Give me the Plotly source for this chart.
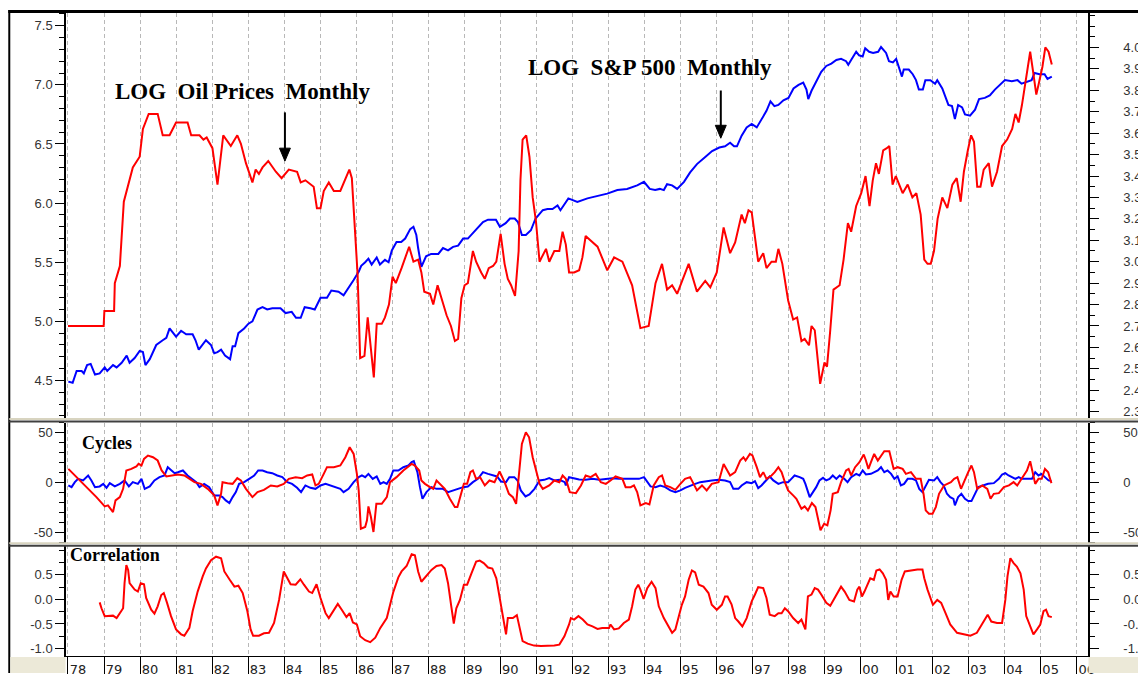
import plotly.graph_objects as go

# ---------------- data ----------------
# LOG oil price, read against the right-hand scale of the top panel
oil_log = [(1978.00,2.70),(1978.99,2.70),(1979.01,2.77),(1979.28,2.77),(1979.30,2.90),(1979.44,2.98),(1979.55,3.28),(1979.67,3.36),(1979.80,3.44),(1979.99,3.49),(1980.08,3.62),(1980.24,3.69),(1980.49,3.69),(1980.63,3.59),(1980.82,3.59),(1981.00,3.65),(1981.32,3.65),(1981.42,3.59),(1981.65,3.59),(1981.76,3.57),(1981.85,3.58),(1982.01,3.53),(1982.15,3.36),(1982.31,3.59),(1982.52,3.54),(1982.70,3.59),(1982.80,3.55),(1982.94,3.46),(1983.12,3.37),(1983.21,3.43),(1983.30,3.41),(1983.40,3.44),(1983.56,3.47),(1983.77,3.42),(1983.93,3.39),(1984.13,3.43),(1984.36,3.42),(1984.46,3.37),(1984.59,3.38),(1984.82,3.35),(1984.91,3.25),(1985.01,3.25),(1985.10,3.33),(1985.24,3.37),(1985.38,3.33),(1985.56,3.33),(1985.68,3.38),(1985.81,3.43),(1985.88,3.39),(1985.98,3.09),(1986.04,2.94),(1986.11,2.55),(1986.23,2.56),(1986.32,2.74),(1986.39,2.61),(1986.43,2.56),(1986.49,2.46),(1986.57,2.71),(1986.71,2.71),(1986.80,2.74),(1986.91,2.80),(1987.01,2.93),(1987.10,2.90),(1987.26,2.97),(1987.47,3.07),(1987.59,3.00),(1987.72,3.01),(1987.81,2.95),(1987.89,2.86),(1988.05,2.85),(1988.14,2.80),(1988.26,2.89),(1988.39,2.82),(1988.51,2.75),(1988.63,2.70),(1988.74,2.63),(1988.83,2.64),(1988.92,2.83),(1989.01,2.89),(1989.10,2.90),(1989.24,3.05),(1989.33,3.00),(1989.47,2.95),(1989.57,2.92),(1989.68,2.97),(1989.80,2.98),(1989.89,3.00),(1990.01,3.13),(1990.12,2.99),(1990.21,2.92),(1990.30,2.89),(1990.41,2.84),(1990.51,3.05),(1990.56,3.38),(1990.62,3.57),(1990.72,3.59),(1990.81,3.49),(1990.90,3.30),(1990.99,3.19),(1991.09,3.00),(1991.15,3.02),(1991.27,3.06),(1991.36,3.00),(1991.50,3.05),(1991.64,3.05),(1991.73,3.14),(1991.82,3.08),(1991.91,2.95),(1992.05,2.95),(1992.19,2.96),(1992.28,3.02),(1992.37,3.12),(1992.50,3.10),(1992.70,3.07),(1992.97,2.96),(1993.16,3.02),(1993.39,3.00),(1993.66,2.89),(1993.89,2.69),(1994.12,2.70),(1994.31,2.90),(1994.49,2.99),(1994.63,2.87),(1994.77,2.89),(1994.91,2.85),(1995.23,2.99),(1995.46,2.86),(1995.69,2.91),(1995.83,2.88),(1996.01,2.95),(1996.20,3.16),(1996.38,3.04),(1996.52,3.09),(1996.70,3.22),(1996.79,3.18),(1996.89,3.24),(1996.98,3.23),(1997.16,3.00),(1997.30,3.04),(1997.39,2.97),(1997.53,3.00),(1997.65,3.00),(1997.72,3.06),(1997.83,2.99),(1997.99,2.82),(1998.13,2.73),(1998.24,2.74),(1998.36,2.63),(1998.45,2.64),(1998.57,2.61),(1998.64,2.70),(1998.73,2.68),(1998.82,2.53),(1998.88,2.43),(1999.00,2.53),(1999.07,2.51),(1999.16,2.68),(1999.25,2.87),(1999.42,2.89),(1999.53,3.01),(1999.65,3.18),(1999.74,3.14),(1999.88,3.26),(2000.02,3.32),(2000.14,3.40),(2000.25,3.26),(2000.34,3.38),(2000.43,3.46),(2000.51,3.41),(2000.63,3.52),(2000.73,3.53),(2000.80,3.54),(2000.89,3.36),(2000.98,3.40),(2001.17,3.32),(2001.31,3.36),(2001.44,3.30),(2001.55,3.32),(2001.67,3.22),(2001.77,3.01),(2001.86,2.99),(2001.95,2.99),(2002.04,3.05),(2002.14,3.20),(2002.27,3.30),(2002.41,3.25),(2002.55,3.36),(2002.67,3.39),(2002.78,3.28),(2002.87,3.42),(2002.98,3.52),(2003.07,3.59),(2003.15,3.56),(2003.24,3.35),(2003.33,3.35),(2003.42,3.43),(2003.56,3.46),(2003.65,3.35),(2003.79,3.42),(2003.93,3.54),(2004.07,3.57),(2004.21,3.62),(2004.30,3.69),(2004.39,3.65),(2004.48,3.73),(2004.59,3.84),(2004.71,3.98),(2004.78,3.90),(2004.88,3.78),(2004.96,3.84),(2005.05,3.91),(2005.13,4.00),(2005.22,3.98),(2005.31,3.92)]

# LOG S&P 500, read against the left-hand scale of the top panel
spx_log = [(1978.01,4.49),(1978.13,4.48),(1978.24,4.58),(1978.38,4.58),(1978.44,4.56),(1978.53,4.63),(1978.63,4.64),(1978.75,4.55),(1978.88,4.56),(1979.02,4.61),(1979.09,4.58),(1979.25,4.63),(1979.35,4.61),(1979.49,4.65),(1979.63,4.71),(1979.71,4.65),(1979.85,4.69),(1979.99,4.75),(1980.08,4.74),(1980.15,4.63),(1980.27,4.68),(1980.45,4.80),(1980.63,4.84),(1980.73,4.86),(1980.82,4.94),(1980.91,4.90),(1981.00,4.87),(1981.14,4.92),(1981.28,4.89),(1981.46,4.89),(1981.54,4.84),(1981.63,4.76),(1981.83,4.84),(1981.97,4.80),(1982.06,4.73),(1982.15,4.74),(1982.25,4.76),(1982.36,4.71),(1982.50,4.68),(1982.57,4.79),(1982.64,4.79),(1982.73,4.90),(1982.89,4.94),(1983.01,4.98),(1983.12,5.00),(1983.26,5.10),(1983.40,5.12),(1983.53,5.10),(1983.67,5.11),(1983.90,5.11),(1984.04,5.07),(1984.21,5.08),(1984.33,5.03),(1984.46,5.03),(1984.57,5.12),(1984.73,5.11),(1984.85,5.10),(1985.01,5.20),(1985.19,5.20),(1985.31,5.26),(1985.51,5.25),(1985.65,5.22),(1985.79,5.28),(1985.93,5.35),(1986.07,5.42),(1986.14,5.47),(1986.25,5.50),(1986.34,5.53),(1986.43,5.48),(1986.57,5.54),(1986.66,5.48),(1986.80,5.52),(1986.90,5.50),(1986.99,5.60),(1987.12,5.67),(1987.25,5.67),(1987.36,5.70),(1987.50,5.78),(1987.59,5.80),(1987.67,5.73),(1987.72,5.62),(1987.81,5.46),(1987.94,5.55),(1988.08,5.57),(1988.28,5.57),(1988.41,5.62),(1988.55,5.60),(1988.69,5.63),(1988.83,5.64),(1988.97,5.70),(1989.10,5.70),(1989.33,5.78),(1989.52,5.84),(1989.66,5.86),(1989.88,5.86),(1989.99,5.80),(1990.15,5.83),(1990.27,5.87),(1990.40,5.87),(1990.49,5.84),(1990.60,5.73),(1990.71,5.73),(1990.85,5.77),(1990.98,5.87),(1991.18,5.94),(1991.31,5.95),(1991.45,5.95),(1991.59,5.98),(1991.67,5.94),(1991.89,6.04),(1992.14,6.01),(1992.42,6.04),(1992.70,6.06),(1992.97,6.08),(1993.25,6.11),(1993.52,6.12),(1993.80,6.15),(1993.99,6.18),(1994.15,6.12),(1994.30,6.11),(1994.43,6.12),(1994.54,6.11),(1994.63,6.16),(1994.77,6.15),(1994.91,6.12),(1995.10,6.18),(1995.27,6.26),(1995.46,6.33),(1995.69,6.39),(1995.88,6.44),(1996.08,6.47),(1996.24,6.48),(1996.38,6.51),(1996.49,6.48),(1996.57,6.48),(1996.70,6.57),(1996.84,6.64),(1996.98,6.67),(1997.12,6.64),(1997.25,6.71),(1997.39,6.78),(1997.50,6.86),(1997.61,6.82),(1997.72,6.83),(1997.86,6.87),(1998.00,6.89),(1998.14,6.97),(1998.28,7.00),(1998.41,7.02),(1998.50,6.96),(1998.55,6.88),(1998.64,6.95),(1998.77,7.03),(1998.91,7.11),(1999.05,7.16),(1999.19,7.18),(1999.33,7.21),(1999.46,7.22),(1999.60,7.20),(1999.66,7.17),(1999.74,7.21),(1999.88,7.28),(1999.96,7.25),(2000.06,7.24),(2000.13,7.31),(2000.24,7.28),(2000.35,7.27),(2000.49,7.28),(2000.57,7.32),(2000.71,7.27),(2000.79,7.20),(2000.90,7.19),(2000.99,7.22),(2001.08,7.13),(2001.15,7.07),(2001.20,7.13),(2001.34,7.13),(2001.45,7.09),(2001.54,7.04),(2001.62,6.96),(2001.73,6.96),(2001.80,7.04),(2001.94,7.04),(2002.07,7.01),(2002.13,7.04),(2002.27,6.97),(2002.35,6.90),(2002.44,6.83),(2002.54,6.82),(2002.62,6.71),(2002.71,6.83),(2002.82,6.81),(2002.90,6.75),(2003.04,6.74),(2003.18,6.79),(2003.29,6.88),(2003.45,6.89),(2003.59,6.91),(2003.73,6.96),(2003.87,7.00),(2004.01,7.04),(2004.20,7.03),(2004.36,7.04),(2004.47,7.01),(2004.64,7.03),(2004.75,7.04),(2004.83,7.10),(2004.97,7.09),(2005.11,7.09),(2005.19,7.05),(2005.31,7.07)]

cycles_oil = [(1978.01,13.8),(1978.10,10.5),(1978.24,6.2),(1978.56,-6.2),(1978.79,-14.5),(1979.02,-23.8),(1979.11,-22.8),(1979.25,-29.5),(1979.32,-17.8),(1979.44,-14.5),(1979.53,-6.2),(1979.62,12.2),(1979.76,13.8),(1979.90,16.2),(1979.96,18.8),(1980.04,17.2),(1980.11,23.8),(1980.22,27.2),(1980.36,25.5),(1980.49,22.2),(1980.60,12.2),(1980.73,6.2),(1980.86,7.2),(1981.05,8.2),(1981.23,7.2),(1981.37,3.8),(1981.51,0.5),(1981.69,-1.2),(1981.88,-6.2),(1982.06,-12.8),(1982.15,-22.8),(1982.25,-11.2),(1982.29,0.5),(1982.43,-0.5),(1982.57,-1.2),(1982.70,4.5),(1982.80,2.2),(1982.94,-6.2),(1983.12,-14.5),(1983.26,-9.5),(1983.44,-7.2),(1983.63,-2.8),(1983.81,-3.8),(1983.99,-1.2),(1984.13,3.8),(1984.32,5.5),(1984.50,4.5),(1984.64,7.2),(1984.78,8.2),(1984.87,-2.8),(1984.96,-1.2),(1985.10,8.8),(1985.19,15.5),(1985.38,15.5),(1985.56,17.2),(1985.70,25.5),(1985.82,35.5),(1985.93,28.8),(1986.02,8.8),(1986.07,-7.8),(1986.13,-46.2),(1986.25,-44.5),(1986.30,-37.8),(1986.34,-23.8),(1986.41,-34.5),(1986.48,-49.5),(1986.56,-21.2),(1986.71,-21.2),(1986.85,-14.5),(1986.94,0.5),(1987.12,5.5),(1987.31,12.2),(1987.54,18.8),(1987.63,17.2),(1987.75,12.2),(1987.81,2.2),(1987.91,-1.2),(1988.05,-4.5),(1988.14,-6.2),(1988.23,2.2),(1988.32,-1.2),(1988.46,-6.2),(1988.60,-16.2),(1988.74,-24.5),(1988.81,-24.5),(1988.92,-11.2),(1988.99,-1.2),(1989.08,-1.2),(1989.17,10.5),(1989.24,12.2),(1989.33,3.8),(1989.44,5.5),(1989.57,-2.8),(1989.70,2.2),(1989.84,0.5),(1989.98,11.2),(1990.12,0.5),(1990.24,-11.2),(1990.35,-14.5),(1990.44,-21.2),(1990.53,8.8),(1990.60,38.8),(1990.71,50.5),(1990.80,45.5),(1990.90,25.5),(1990.99,13.8),(1991.09,-1.2),(1991.18,-6.2),(1991.36,-2.8),(1991.50,2.2),(1991.64,0.5),(1991.73,7.2),(1991.82,3.8),(1991.93,-9.5),(1992.10,-10.5),(1992.24,-2.8),(1992.37,7.2),(1992.51,5.5),(1992.65,8.8),(1992.79,0.5),(1992.93,-1.2),(1993.06,2.2),(1993.20,6.2),(1993.39,3.8),(1993.48,-4.5),(1993.62,-4.5),(1993.71,-2.8),(1993.80,-9.5),(1993.89,-22.8),(1994.04,-20.5),(1994.14,-21.8),(1994.26,-2.8),(1994.40,5.5),(1994.49,7.2),(1994.58,-2.8),(1994.72,-4.5),(1994.86,-7.2),(1995.00,-1.2),(1995.13,3.8),(1995.27,5.5),(1995.37,-1.2),(1995.46,-7.8),(1995.60,-2.8),(1995.73,-7.8),(1995.87,-1.2),(1996.06,0.5),(1996.20,18.8),(1996.29,12.2),(1996.38,7.2),(1996.52,10.5),(1996.66,22.2),(1996.75,25.5),(1996.81,22.2),(1996.93,28.8),(1997.00,27.2),(1997.12,15.5),(1997.21,5.5),(1997.30,10.5),(1997.39,3.8),(1997.53,7.2),(1997.62,10.5),(1997.72,15.5),(1997.81,10.5),(1997.90,0.5),(1997.99,-7.8),(1998.13,-12.8),(1998.22,-16.2),(1998.36,-26.2),(1998.45,-23.8),(1998.54,-27.8),(1998.65,-20.5),(1998.75,-24.5),(1998.82,-37.8),(1998.89,-47.8),(1998.99,-41.2),(1999.08,-42.8),(1999.17,-27.8),(1999.23,-11.2),(1999.37,-9.5),(1999.46,0.5),(1999.60,12.2),(1999.67,13.8),(1999.74,7.2),(1999.85,15.5),(1999.97,20.5),(2000.09,28.2),(2000.15,22.2),(2000.22,13.8),(2000.29,20.5),(2000.38,28.8),(2000.48,22.2),(2000.57,27.2),(2000.66,31.5),(2000.80,31.5),(2000.85,23.8),(2000.92,13.8),(2001.03,15.5),(2001.17,13.8),(2001.26,8.8),(2001.40,10.5),(2001.54,3.8),(2001.67,3.8),(2001.75,-11.2),(2001.81,-27.8),(2001.90,-31.2),(2002.00,-31.2),(2002.09,-24.5),(2002.18,-11.2),(2002.32,-2.8),(2002.51,0.5),(2002.60,3.8),(2002.69,5.5),(2002.79,-6.2),(2002.88,2.2),(2002.99,10.5),(2003.08,17.2),(2003.15,10.5),(2003.24,-6.2),(2003.38,-2.8),(2003.52,-6.2),(2003.61,-16.2),(2003.70,-11.2),(2003.84,-10.5),(2003.98,-4.5),(2004.12,-2.8),(2004.25,0.5),(2004.35,-2.8),(2004.44,2.2),(2004.53,7.2),(2004.62,12.2),(2004.71,21.5),(2004.78,10.5),(2004.85,-1.2),(2004.94,3.8),(2005.03,3.8),(2005.12,13.8),(2005.21,10.5),(2005.25,5.5),(2005.30,-0.5)]

cycles_spx = [(1978.01,-2.8),(1978.10,-4.5),(1978.19,0.5),(1978.28,3.8),(1978.42,2.2),(1978.56,7.2),(1978.65,2.2),(1978.75,-4.5),(1978.88,-3.8),(1978.98,-1.2),(1979.07,-5.2),(1979.16,-0.5),(1979.30,-3.8),(1979.44,-1.2),(1979.57,2.2),(1979.69,-3.8),(1979.80,0.5),(1979.94,-1.2),(1980.04,3.8),(1980.13,-6.2),(1980.27,-3.8),(1980.40,2.2),(1980.54,5.5),(1980.68,7.2),(1980.77,15.5),(1980.86,12.2),(1980.96,9.5),(1981.05,10.5),(1981.19,12.2),(1981.32,7.2),(1981.46,3.8),(1981.56,0.5),(1981.65,-4.5),(1981.78,-1.2),(1981.92,-4.5),(1982.06,-12.8),(1982.20,-12.8),(1982.29,-14.5),(1982.38,-17.8),(1982.48,-20.5),(1982.57,-14.5),(1982.66,-9.5),(1982.75,-1.2),(1982.89,0.5),(1983.03,3.8),(1983.17,7.2),(1983.28,12.2),(1983.40,12.2),(1983.53,10.5),(1983.67,9.5),(1983.81,7.2),(1983.95,5.5),(1984.09,0.5),(1984.22,-1.2),(1984.36,-5.2),(1984.47,-9.5),(1984.59,-2.8),(1984.73,-5.2),(1984.87,-6.2),(1985.01,-2.8),(1985.15,-1.2),(1985.29,-2.8),(1985.42,-4.5),(1985.56,-6.2),(1985.65,-9.5),(1985.79,-6.2),(1985.93,0.5),(1986.07,5.5),(1986.16,7.2),(1986.25,5.5),(1986.34,8.8),(1986.46,3.8),(1986.57,6.2),(1986.67,-1.2),(1986.76,0.5),(1986.85,-1.2),(1986.94,3.8),(1987.03,12.2),(1987.17,12.2),(1987.31,15.5),(1987.45,17.2),(1987.54,20.5),(1987.60,21.5),(1987.70,10.5),(1987.77,-4.5),(1987.84,-16.2),(1987.95,-9.5),(1988.09,-4.5),(1988.23,-6.2),(1988.41,-6.2),(1988.55,-9.5),(1988.69,-7.8),(1988.83,-6.2),(1988.97,-4.5),(1989.10,-3.8),(1989.24,0.5),(1989.38,3.8),(1989.52,10.5),(1989.66,8.8),(1989.80,7.2),(1989.91,6.2),(1990.02,1.2),(1990.16,0.5),(1990.25,5.5),(1990.39,5.5),(1990.48,2.2),(1990.57,-7.8),(1990.70,-13.8),(1990.81,-11.8),(1990.95,-6.2),(1991.09,2.2),(1991.22,2.8),(1991.36,4.5),(1991.50,2.2),(1991.64,2.8),(1991.79,0.5),(1991.82,-2.8),(1991.91,5.5),(1992.05,4.5),(1992.19,3.2),(1992.37,2.8),(1992.56,3.8),(1992.75,2.8),(1992.93,3.8),(1993.11,4.5),(1993.30,3.8),(1993.48,3.8),(1993.66,3.2),(1993.85,3.8),(1993.99,5.5),(1994.08,0.5),(1994.17,-3.8),(1994.31,-4.5),(1994.44,-2.8),(1994.58,-4.5),(1994.72,-7.8),(1994.86,-9.5),(1995.00,-7.8),(1995.13,-5.2),(1995.27,-2.8),(1995.41,-1.2),(1995.55,0.5),(1995.69,1.5),(1995.87,2.2),(1996.06,2.8),(1996.24,2.2),(1996.38,0.5),(1996.47,-6.2),(1996.61,-6.2),(1996.70,-2.8),(1996.84,0.5),(1996.98,-0.5),(1997.07,1.5),(1997.16,-5.5),(1997.25,-2.8),(1997.39,2.2),(1997.48,6.2),(1997.58,2.2),(1997.72,-1.2),(1997.85,0.5),(1997.99,0.5),(1998.08,3.8),(1998.17,7.2),(1998.31,5.5),(1998.41,3.8),(1998.47,-1.2),(1998.54,-7.8),(1998.59,-14.5),(1998.68,-9.5),(1998.77,-4.5),(1998.86,2.2),(1998.96,4.8),(1999.05,2.2),(1999.14,3.8),(1999.23,7.2),(1999.33,3.8),(1999.42,7.2),(1999.55,3.8),(1999.64,0.5),(1999.74,5.5),(1999.88,8.8),(1999.97,7.2),(2000.06,12.2),(2000.15,8.2),(2000.29,8.8),(2000.38,10.5),(2000.48,12.2),(2000.57,15.5),(2000.66,10.5),(2000.75,12.2),(2000.85,8.8),(2000.94,3.8),(2001.03,6.2),(2001.12,-2.8),(2001.21,-1.2),(2001.31,3.8),(2001.44,3.8),(2001.54,2.2),(2001.63,-6.2),(2001.72,-9.5),(2001.81,-2.8),(2001.90,2.8),(2002.04,2.2),(2002.13,5.5),(2002.22,0.5),(2002.31,-2.8),(2002.40,-11.2),(2002.49,-14.5),(2002.58,-16.2),(2002.62,-22.8),(2002.71,-14.5),(2002.80,-11.2),(2002.90,-16.2),(2002.99,-18.5),(2003.08,-18.5),(2003.18,-11.2),(2003.27,-4.5),(2003.40,-2.8),(2003.54,-1.2),(2003.70,-0.5),(2003.84,3.8),(2003.93,8.2),(2004.02,9.5),(2004.11,7.2),(2004.21,5.5),(2004.30,3.8),(2004.39,5.5),(2004.48,3.8),(2004.62,3.8),(2004.76,3.8),(2004.85,10.5),(2004.94,7.2),(2005.02,8.8),(2005.11,5.5),(2005.22,2.2),(2005.30,1.5)]

correlation = [(1978.88,-0.06),(1978.93,-0.18),(1979.02,-0.34),(1979.16,-0.34),(1979.25,-0.33),(1979.35,-0.38),(1979.44,-0.28),(1979.53,-0.18),(1979.57,0.33),(1979.62,0.70),(1979.67,0.60),(1979.71,0.33),(1979.85,0.20),(1979.94,0.16),(1980.02,0.33),(1980.11,0.31),(1980.17,0.03),(1980.31,-0.21),(1980.40,-0.29),(1980.49,-0.14),(1980.59,0.09),(1980.66,0.13),(1980.75,-0.07),(1980.86,-0.34),(1981.00,-0.61),(1981.14,-0.71),(1981.23,-0.74),(1981.37,-0.58),(1981.46,-0.24),(1981.60,0.16),(1981.74,0.47),(1981.83,0.63),(1981.97,0.80),(1982.11,0.87),(1982.25,0.84),(1982.34,0.57),(1982.49,0.40),(1982.62,0.26),(1982.73,0.28),(1982.85,0.13),(1982.98,-0.24),(1983.07,-0.61),(1983.14,-0.74),(1983.30,-0.74),(1983.44,-0.69),(1983.58,-0.68),(1983.72,-0.48),(1983.86,-0.01),(1983.99,0.57),(1984.07,0.47),(1984.18,0.31),(1984.32,0.30),(1984.45,0.41),(1984.55,0.30),(1984.69,0.16),(1984.78,0.13),(1984.90,0.31),(1985.01,0.03),(1985.15,-0.28),(1985.24,-0.38),(1985.33,-0.28),(1985.49,-0.09),(1985.60,-0.21),(1985.73,-0.36),(1985.82,-0.28),(1985.91,-0.47),(1986.02,-0.51),(1986.11,-0.75),(1986.25,-0.83),(1986.39,-0.87),(1986.53,-0.78),(1986.67,-0.58),(1986.85,-0.38),(1986.94,-0.11),(1987.03,0.15),(1987.17,0.45),(1987.26,0.57),(1987.40,0.68),(1987.54,0.92),(1987.63,0.90),(1987.72,0.57),(1987.81,0.36),(1987.95,0.47),(1988.09,0.60),(1988.23,0.68),(1988.37,0.70),(1988.46,0.63),(1988.55,0.33),(1988.64,-0.14),(1988.71,-0.49),(1988.78,-0.18),(1988.88,-0.01),(1988.99,0.30),(1989.08,0.30),(1989.20,0.53),(1989.33,0.77),(1989.43,0.79),(1989.54,0.74),(1989.66,0.65),(1989.78,0.63),(1989.89,0.43),(1989.98,0.06),(1990.07,-0.34),(1990.16,-0.71),(1990.21,-0.38),(1990.35,-0.38),(1990.46,-0.32),(1990.53,-0.55),(1990.62,-0.85),(1990.76,-0.90),(1990.94,-0.94),(1991.13,-0.95),(1991.31,-0.95),(1991.50,-0.94),(1991.64,-0.92),(1991.78,-0.75),(1991.91,-0.51),(1991.96,-0.38),(1992.05,-0.41),(1992.17,-0.34),(1992.29,-0.41),(1992.42,-0.51),(1992.56,-0.55),(1992.70,-0.60),(1992.83,-0.58),(1993.02,-0.58),(1993.06,-0.51),(1993.16,-0.61),(1993.29,-0.59),(1993.43,-0.48),(1993.57,-0.41),(1993.66,-0.14),(1993.75,0.20),(1993.83,0.30),(1993.89,0.20),(1993.98,0.01),(1994.08,0.23),(1994.20,0.36),(1994.31,0.23),(1994.40,-0.14),(1994.54,-0.38),(1994.68,-0.55),(1994.77,-0.68),(1994.86,-0.61),(1994.95,-0.38),(1995.04,-0.11),(1995.13,0.06),(1995.23,0.40),(1995.32,0.59),(1995.41,0.55),(1995.51,0.30),(1995.64,0.26),(1995.78,0.13),(1995.87,-0.11),(1996.01,-0.21),(1996.15,-0.11),(1996.24,0.06),(1996.31,0.06),(1996.42,-0.10),(1996.52,-0.38),(1996.61,-0.45),(1996.72,-0.55),(1996.84,-0.38),(1996.98,-0.04),(1997.07,0.10),(1997.16,0.25),(1997.30,0.23),(1997.39,0.03),(1997.48,-0.31),(1997.62,-0.34),(1997.72,-0.28),(1997.81,-0.28),(1997.90,-0.18),(1997.99,-0.24),(1998.13,-0.38),(1998.27,-0.48),(1998.36,-0.41),(1998.47,-0.61),(1998.54,0.06),(1998.64,0.10),(1998.73,0.23),(1998.82,0.20),(1998.91,0.10),(1999.05,-0.07),(1999.16,-0.13),(1999.28,0.03),(1999.37,0.16),(1999.46,0.26),(1999.56,0.16),(1999.69,-0.01),(1999.82,-0.04),(1999.91,0.20),(1999.97,0.26),(2000.04,0.06),(2000.11,0.16),(2000.20,0.33),(2000.27,0.43),(2000.37,0.40),(2000.44,0.59),(2000.53,0.61),(2000.62,0.53),(2000.71,0.40),(2000.77,-0.01),(2000.83,0.16),(2000.92,0.06),(2001.03,0.06),(2001.14,0.40),(2001.23,0.57),(2001.40,0.59),(2001.58,0.61),(2001.72,0.61),(2001.77,0.43),(2001.86,0.20),(2001.95,-0.01),(2002.01,-0.11),(2002.13,-0.01),(2002.24,-0.07),(2002.36,-0.28),(2002.49,-0.51),(2002.68,-0.68),(2002.86,-0.71),(2003.05,-0.74),(2003.23,-0.68),(2003.33,-0.55),(2003.42,-0.45),(2003.53,-0.31),(2003.63,-0.45),(2003.79,-0.48),(2003.93,-0.48),(2004.02,-0.01),(2004.08,0.47),(2004.16,0.84),(2004.25,0.74),(2004.34,0.67),(2004.44,0.53),(2004.53,0.20),(2004.60,-0.34),(2004.71,-0.55),(2004.80,-0.71),(2004.90,-0.61),(2004.99,-0.51),(2005.08,-0.24),(2005.15,-0.21),(2005.22,-0.34),(2005.31,-0.36)]

years = list(range(1978, 2007))
year_labels = ["%02d" % (y % 100) for y in years]

left_ticks_top = [4.5, 5.0, 5.5, 6.0, 6.5, 7.0, 7.5]
right_ticks_top = [2.3, 2.4, 2.5, 2.6, 2.7, 2.8, 2.9, 3.0, 3.1, 3.2, 3.3, 3.4, 3.5, 3.6, 3.7, 3.8, 3.9, 4.0]
cycle_ticks = [-50, 0, 50]
corr_ticks = [-1.0, -0.5, 0.0, 0.5]

# ---------------- layout helpers ----------------
# The page body has an 8px margin, so the figure is drawn 8px lower/right than
# the window origin; all positions below are given in window (reference) pixels.
OFF = 8
W, H = 1146 - OFF, 677 - OFF
L, R = 66 - OFF, 1093 - OFF


def px(x):
    return (x - OFF - L) / (R - L)


def py(y):
    return (H - (y - OFF)) / H


def unzip(pairs):
    return [p[0] for p in pairs], [p[1] for p in pairs]


RED = "#FF0000"
BLUE = "#0000FF"
GRID = "#B8B8B8"
TICKFONT = dict(family="Liberation Sans, Arial, sans-serif", size=13, color="#333333")

fig = go.Figure()
for pairs, color, xa, ya, mode in [
    (spx_log, BLUE, "x", "y", "lines"),
    (oil_log, RED, "x", "y2", "lines"),
    (cycles_spx, BLUE, "x2", "y3", "lines"),
    (cycles_oil, RED, "x2", "y4", "lines"),
    (correlation, RED, "x3", "y5", "lines"),
    (correlation, RED, "x3", "y6", "none"),   # registers the right-hand scale only
]:
    xs, ys = unzip(pairs)
    fig.add_trace(go.Scatter(x=xs, y=ys, mode=mode, xaxis=xa, yaxis=ya,
                             line=dict(color=color, width=2), showlegend=False,
                             hoverinfo="skip"))

xrange_ = [1977.945, 2006.315]
xcommon = dict(range=xrange_, tickmode="array", tickvals=years, showgrid=True,
               gridcolor=GRID, griddash="4px,3px", gridwidth=1, zeroline=False)

top_dom = [py(421), py(13)]
mid_dom = [py(546), py(425)]
bot_dom = [py(660), py(548)]

ycommon = dict(showline=True, linecolor="black", linewidth=1.5, ticks="outside",
               ticklen=9, tickwidth=1, tickcolor="black", showgrid=False,
               zeroline=False, tickfont=TICKFONT)

fig.update_layout(
    width=W, height=H,
    margin=dict(l=L, r=W - R, t=0, b=0),
    paper_bgcolor="white", plot_bgcolor="white",
    showlegend=False,
    xaxis=dict(domain=[0, 1], anchor="y", showticklabels=False, ticks="", **xcommon),
    xaxis2=dict(domain=[0, 1], anchor="y3", showticklabels=False, ticks="", **xcommon),
    xaxis3=dict(domain=[0, 1], anchor="y5", ticktext=year_labels, ticks="outside",
                ticklen=17, tickcolor="black", tickwidth=1, ticklabelshift=10,
                ticklabelstandoff=-16, showline=True, linecolor="black", linewidth=1,
                tickfont=dict(family="DejaVu Sans, Verdana, sans-serif", size=13,
                              color="#222222"),
                **xcommon),
    yaxis=dict(domain=top_dom, anchor="x", range=[4.178, 7.608], tickmode="array",
               tickvals=left_ticks_top, ticktext=["%.1f" % v for v in left_ticks_top],
               minor=dict(dtick=0.1, tick0=4.0, ticks="outside", ticklen=5,
                          tickcolor="black"), **ycommon),
    yaxis2=dict(overlaying="y", side="right", anchor="x", visible=True,
                range=[2.268, 4.161],
                tickmode="array", tickvals=right_ticks_top,
                ticktext=["%.1f" % v for v in right_ticks_top], ticklabelstandoff=22,
                minor=dict(dtick=0.05, tick0=2.25, ticks="outside", ticklen=5,
                           tickcolor="black"), **ycommon),
    yaxis3=dict(domain=mid_dom, anchor="x2", range=[-60.3, 60.3], tickmode="array",
                tickvals=cycle_ticks, ticktext=[str(v) for v in cycle_ticks],
                minor=dict(dtick=10, tick0=0, ticks="outside", ticklen=5,
                           tickcolor="black"), **ycommon),
    yaxis4=dict(overlaying="y3", side="right", anchor="x2", visible=True,
                range=[-60.3, 60.3],
                tickmode="array", tickvals=cycle_ticks,
                ticktext=[str(v) for v in cycle_ticks], ticklabelstandoff=22,
                minor=dict(dtick=10, tick0=0, ticks="outside", ticklen=5,
                           tickcolor="black"), **ycommon),
    yaxis5=dict(domain=bot_dom, anchor="x3", range=[-1.154, 1.113], tickmode="array",
                tickvals=corr_ticks, ticktext=["%.1f" % v for v in corr_ticks],
                minor=dict(dtick=0.25, tick0=0, ticks="outside", ticklen=5,
                           tickcolor="black"), **ycommon),
    yaxis6=dict(overlaying="y5", side="right", anchor="x3", visible=True,
                range=[-1.154, 1.113],
                tickmode="array", tickvals=corr_ticks,
                ticktext=["%.1f" % v for v in corr_ticks], ticklabelstandoff=22,
                minor=dict(dtick=0.25, tick0=0, ticks="outside", ticklen=5,
                           tickcolor="black"), **ycommon),
)

TITLE_FONT = dict(family="Liberation Serif, Times New Roman, serif", size=23, color="black")
LABEL_FONT = dict(family="Liberation Serif, Times New Roman, serif", size=18, color="black")
NB = "\u00a0"
annos = [
    dict(text="<b>LOG" + NB * 2 + "Oil Prices" + NB * 2 + "Monthly</b>", x=px(243), y=py(92),
         xanchor="center", yanchor="middle", font=TITLE_FONT),
    dict(text="<b>LOG" + NB * 2 + "S&amp;P 500" + NB * 2 + "Monthly</b>", x=px(653), y=py(68),
         xanchor="center", yanchor="middle", font=TITLE_FONT),
    dict(text="<b>Cycles</b>", x=px(80), y=py(446), xanchor="left", yanchor="middle",
         font=LABEL_FONT),
    dict(text="<b>Correlation</b>", x=px(68), y=py(558), xanchor="left", yanchor="middle",
         font=LABEL_FONT),
]
for a in annos:
    a.update(xref="paper", yref="paper", showarrow=False)
fig.update_layout(annotations=annos)

shapes = []


def hline(y, x0, x1, color, width):
    shapes.append(dict(type="line", xref="paper", yref="paper", x0=px(x0), x1=px(x1),
                       y0=py(y), y1=py(y), line=dict(color=color, width=width)))


def rect(x0, y0, x1, y1, color):
    shapes.append(dict(type="rect", xref="paper", yref="paper", x0=px(x0), x1=px(x1),
                       y0=py(y1), y1=py(y0), fillcolor=color, line=dict(width=0),
                       layer="above"))


def arrow(x, y0, y1):
    shapes.append(dict(type="line", xref="paper", yref="paper", x0=px(x), x1=px(x),
                       y0=py(y0), y1=py(y1 - 12), line=dict(color="black", width=2)))
    path = "M %f,%f L %f,%f L %f,%f Z" % (px(x - 5.5), py(y1 - 13), px(x + 5.5), py(y1 - 13),
                                          px(x), py(y1))
    shapes.append(dict(type="path", xref="paper", yref="paper", path=path,
                       fillcolor="black", line=dict(color="black", width=1)))


# frame and separators
hline(11.5, 8, 1146, "black", 3)
shapes.append(dict(type="line", xref="paper", yref="paper", x0=px(9), x1=px(9),
                   y0=py(10), y1=py(677), line=dict(color="black", width=2)))
for ysep in (421.5, 546.5):
    hline(ysep, 9, 1146, "#D8D4C0", 2)
    hline(ysep + 2.5, 9, 1146, "#404040", 2)
rect(10, 661, 65.5, 677, "#ECE9D8")
rect(1093.5, 661, 1146, 677, "#ECE9D8")
arrow(286, 113, 162)
arrow(724, 91, 139)
fig.update_layout(shapes=shapes)

fig.write_html("out.html")
